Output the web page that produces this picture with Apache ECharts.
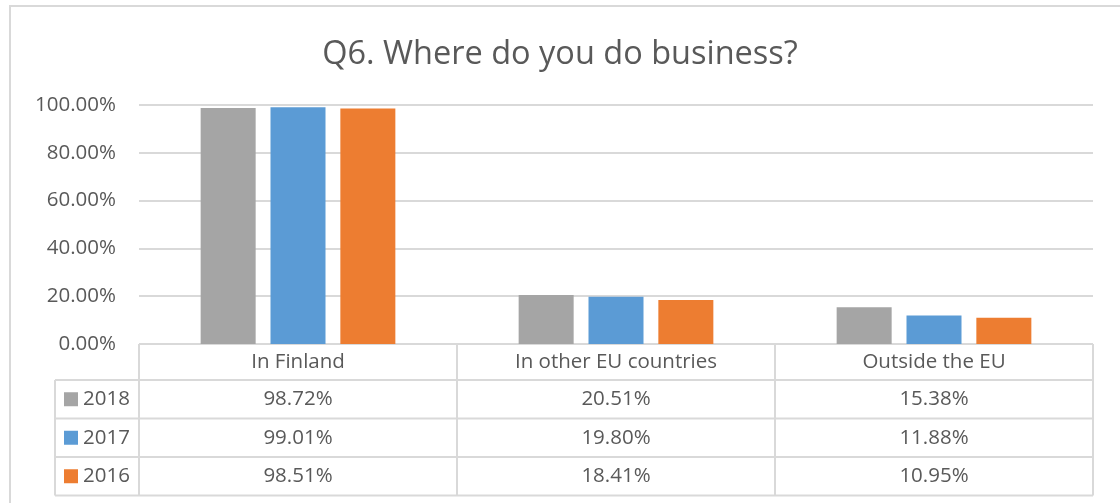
<!DOCTYPE html>
<html>
<head>
<meta charset="utf-8">
<script src="https://cdn.jsdelivr.net/npm/echarts@6/dist/echarts.min.js"></script>
<style>
  html, body { margin: 0; padding: 0; background: #ffffff; }
  #chart { width: 1120px; height: 503px; }
</style>
</head>
<body>
<div id="chart"></div>
<script>
// Survey answers, share of respondents (%)
const categories = ['In Finland', 'In other EU countries', 'Outside the EU'];
const years = ['2018', '2017', '2016'];
const values2018 = [98.72, 20.51, 15.38];
const values2017 = [99.01, 19.80, 11.88];
const values2016 = [98.51, 18.41, 10.95];
const yTicks = [0, 20, 40, 60, 80, 100];

const seriesValues = [values2018, values2017, values2016];
const colors = ['#a5a5a5', '#5b9bd5', '#ed7d31'];

const FONT = '"Open Sans", sans-serif';
const TEXT = '#595959';
const LINE = '#d9d9d9';
const FS = 20.5;

// plot area and data table geometry
const plotLeft = 139, plotRight = 1093, plotTop = 105, plotBottom = 344;
const headerBottom = 380;
const rowHeight = 38.5;
const legendLeft = 55;

const chart = echarts.init(document.getElementById('chart'), null, { renderer: 'canvas' });

const tableGraphics = [];
const tableBottom = headerBottom + rowHeight * years.length;
const colWidth = (plotRight - plotLeft) / categories.length;

// outer chart border
tableGraphics.push({
  type: 'rect', shape: { x: 10, y: 6, width: 1120, height: 520 },
  style: { fill: 'none', stroke: LINE, lineWidth: 2 }, silent: true
});

// horizontal table lines
tableGraphics.push({ type: 'line', shape: { x1: plotLeft, y1: plotBottom, x2: plotRight, y2: plotBottom }, style: { stroke: LINE, lineWidth: 2 } });
for (let r = 0; r <= years.length; r++) {
  const y = headerBottom + r * rowHeight;
  tableGraphics.push({ type: 'line', shape: { x1: legendLeft, y1: y, x2: plotRight, y2: y }, style: { stroke: LINE, lineWidth: 2 } });
}
// vertical table lines
tableGraphics.push({ type: 'line', shape: { x1: legendLeft, y1: headerBottom, x2: legendLeft, y2: tableBottom }, style: { stroke: LINE, lineWidth: 2 } });
for (let c = 0; c <= categories.length; c++) {
  const x = plotLeft + c * colWidth;
  tableGraphics.push({ type: 'line', shape: { x1: x, y1: plotBottom, x2: x, y2: tableBottom }, style: { stroke: LINE, lineWidth: 2 } });
}

// legend keys, year labels and value cells
years.forEach((yr, r) => {
  const cy = headerBottom + r * rowHeight + rowHeight / 2;
  tableGraphics.push({ type: 'rect', shape: { x: 64, y: cy - 7, width: 14, height: 14 }, style: { fill: colors[r] } });
  tableGraphics.push({
    type: 'text', x: 83, y: cy,
    style: { text: yr, font: FS + 'px ' + FONT, fill: TEXT, textVerticalAlign: 'middle', textAlign: 'left' }
  });
  seriesValues[r].forEach((v, c) => {
    tableGraphics.push({
      type: 'text', x: plotLeft + c * colWidth + colWidth / 2, y: cy,
      style: { text: v.toFixed(2) + '%', font: FS + 'px ' + FONT, fill: TEXT, textVerticalAlign: 'middle', textAlign: 'center' }
    });
  });
});

chart.setOption({
  animation: false,
  backgroundColor: '#ffffff',
  title: {
    text: 'Q6. Where do you do business?',
    left: 'center', top: 33,
    textStyle: { fontFamily: FONT, fontSize: 32.5, fontWeight: 'normal', color: TEXT }
  },
  grid: { left: plotLeft, right: 1120 - plotRight, top: plotTop, bottom: 503 - plotBottom, containLabel: false },
  xAxis: {
    type: 'category',
    data: categories,
    axisLine: { show: false },
    axisTick: { show: false },
    axisLabel: { color: TEXT, fontFamily: FONT, fontSize: FS, margin: 8, interval: 0 }
  },
  yAxis: {
    type: 'value',
    min: yTicks[0], max: yTicks[yTicks.length - 1], interval: 20,
    axisLine: { show: false },
    axisTick: { show: false },
    splitLine: { lineStyle: { color: LINE, width: 2 } },
    axisLabel: {
      color: TEXT, fontFamily: FONT, fontSize: FS, margin: 23,
      formatter: v => v.toFixed(2) + '%'
    }
  },
  series: years.map((yr, i) => ({
    name: yr,
    type: 'bar',
    data: seriesValues[i],
    barWidth: 55,
    barGap: '27%',
    itemStyle: { color: colors[i] }
  })),
  graphic: tableGraphics
});
</script>
</body>
</html>
